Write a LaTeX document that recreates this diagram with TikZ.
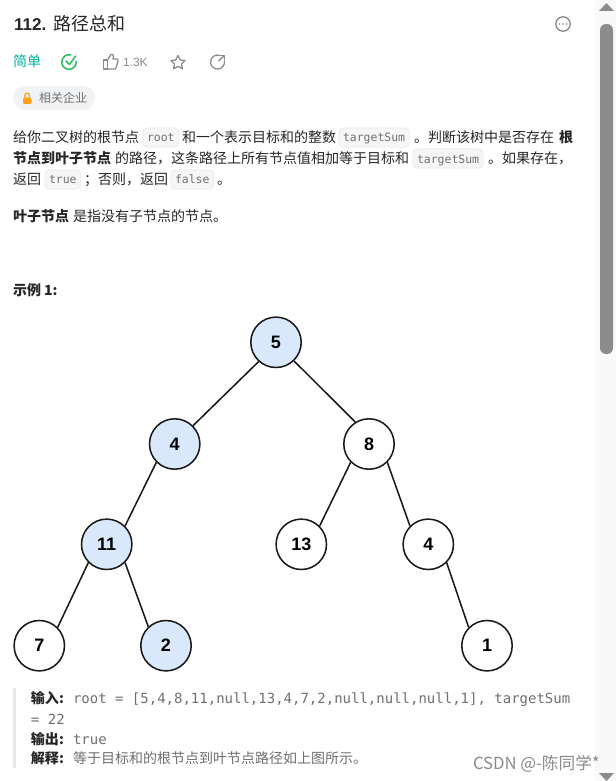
\documentclass[tikz,border=0pt]{standalone}
\usepackage{fontspec}
\setmainfont{Noto Sans CJK SC}
\newfontfamily\cjk{Noto Sans CJK SC}
\newfontfamily\latn{Liberation Sans}
\newfontfamily\codefont{DejaVu Sans Mono}
\definecolor{txt}{HTML}{262626}
\definecolor{muted}{HTML}{8A8A8A}
\definecolor{mono}{HTML}{707070}
\definecolor{teal}{HTML}{00AF9B}
\definecolor{okgreen}{HTML}{2CBB5D}
\definecolor{chipbg}{HTML}{F6F6F6}
\definecolor{chipline}{HTML}{E8E8E8}
\definecolor{pill}{HTML}{F1F2F4}
\definecolor{nodeblue}{HTML}{DAE8FC}
\definecolor{bar}{HTML}{8C8C8C}
\definecolor{track}{HTML}{F9F9F9}
\definecolor{lockc}{HTML}{FFA116}
\tikzset{
  x=0.75pt,y=-0.75pt,
  body/.style={anchor=base west,inner sep=0pt,outer sep=0pt,text=txt,font=\cjk\fontsize{10.5pt}{12pt}\selectfont},
  bodyb/.style={body,font=\cjk\bfseries\fontsize{10.5pt}{12pt}\selectfont},
  chip/.style={anchor=base west,inner xsep=3pt,inner ysep=0pt,outer sep=0pt,text=mono,
     font=\codefont\fontsize{8.6pt}{11pt}\selectfont,
     text height=10.5pt,text depth=3.75pt,
     rounded corners=3pt,fill=chipbg,draw=chipline,line width=0.5pt},
  code/.style={anchor=base west,inner sep=0pt,outer sep=0pt,text=mono,font=\codefont\fontsize{10.5pt}{12pt}\selectfont},
  tree/.style={circle,draw=black!90,line width=1.15pt,minimum size=37.8pt,inner sep=0pt,fill=white,
     text=black,font=\latn\bfseries\fontsize{13.5pt}{15pt}\selectfont},
  hot/.style={tree,fill=nodeblue},
  link/.style={draw=black!90,line width=1.15pt},
  ico/.style={draw=muted,line width=0.95pt,line join=round,line cap=round},
}
\begin{document}
\begin{tikzpicture}
\useasboundingbox (0,0) rectangle (616,781);
\fill[white] (0,0) rectangle (616,781);
% scrollbar
\fill[track] (595,0) rectangle (616,781);
\fill[bar,rounded corners=4.5pt] (600,24) rectangle (613,354);
\fill[bar] (606.5,3) -- (599,11) -- (614,11) -- cycle;
\fill[bar] (606.5,781) -- (599,773) -- (614,773) -- cycle;
% header
\node[body,font=\latn\bfseries\fontsize{12.8pt}{14pt}\selectfont] (title) at (14,31) {112.};
\node[body,font=\cjk\fontsize{13.5pt}{15pt}\selectfont] (titleb) at (53,31) {路径总和};
\draw[ico,line width=1pt] (563,24) circle (7.2);
\foreach \i in {559.5,563,566.5} \fill[muted] (\i,24) circle (0.9);
\node[body,text=teal] (level) at (13,67) {简单};
% check
\draw[okgreen,line width=1.1pt,line cap=round] ([shift={(-5:7.3)}]69,62) arc (-5:285:7.3);
\draw[okgreen,line width=1.1pt,line cap=round,line join=round] (66,61) -- (69.5,64.5) -- (75.5,56);
% thumb
\draw[ico] (103.5,60) rectangle (107.5,69);
\draw[ico] (107.5,60) -- (111,54.5) .. controls (112,53.5) and (114,54.5) .. (113.5,56.5) -- (113,59) -- (117,59) .. controls (118,59) and (118,60) .. (118,61) -- (116,68) .. controls (116,69) and (115,69) .. (114,69) -- (107.5,69);
\node[body,text=muted,font=\latn\fontsize{9pt}{11pt}\selectfont] (likes) at (123,67) {1.3K};
% star
\draw[ico] (178,55.5) -- (180.2,60) -- (185,60.6) -- (181.5,64) -- (182.5,68.8) -- (178,66.4) -- (173.5,68.8) -- (174.5,64) -- (171,60.6) -- (175.8,60) -- cycle;
% share
\draw[ico] ([shift={(-5:7)}]217.5,62) arc (-5:285:7);
\draw[ico] (218.5,61) -- (224.5,55.5);
\draw[ico] (220,55.5) -- (224.5,55.5) -- (224.5,60);
% pill
\fill[pill,rounded corners=8.9pt] (13,86) rectangle (95,110);
\fill[lockc,rounded corners=1pt] (23,97.5) rectangle (31.5,104);
\draw[lockc,line width=0.9pt] (24.8,97.5) -- (24.8,95.5) arc (180:360:2.4) -- (29.6,97.5);
\node[body,text=mono,font=\cjk\fontsize{9pt}{11pt}\selectfont] (co) at (39,103) {相关企业};
% paragraph, line 1
\node[body] (a1) at (13,143) {给你二叉树的根节点};
\node[chip] (a2) at (143,142) {root};
\node[body] (a3) at (182,143) {和一个表示目标和的整数};
\node[chip] (a4) at (339,142) {targetSum};
\node[body] (a5) at (414,143) {。判断该树中是否存在};
\node[bodyb] (a6) at (559,143) {根};
% line 2
\node[bodyb] (b1) at (13,164) {节点到叶子节点};
\node[body] (b2) at (115,164) {的路径，这条路径上所有节点值相加等于目标和};
\node[chip] (b3) at (413,163) {targetSum};
\node[body] (b4) at (488,164) {。如果存在，};
% line 3
\node[body] (c1) at (13,185) {返回};
\node[chip] (c2) at (45,184) {true};
\node[body] (c3) at (84,185) {；否则，返回};
\node[chip] (c4) at (171,184) {false};
\node[body] (c5) at (217,185) {。};
% leaf
\node[bodyb] (d1) at (13,221) {叶子节点};
\node[body] (d2) at (73,221) {是指没有子节点的节点。};
\node[bodyb] (e1) at (13,295) {示例 1:};
% tree
\node[hot]  (n5)  at (276,342.3) {5};
\node[hot]  (n4)  at (174.7,444) {4};
\node[tree] (n8)  at (369,444) {8};
\node[hot]  (n11) at (106.7,544.3) {11};
\node[tree] (n13) at (301.3,544.3) {13};
\node[tree] (n4b) at (428.3,544.3) {4};
\node[tree] (n7)  at (39.3,645.7)  {7};
\node[hot]  (n2)  at (166,645.7) {2};
\node[tree] (n1)  at (487,645.7) {1};
\draw[link] (n5.228)--(n4.45);
\draw[link] (n5.314)--(n8.122);
\draw[link] (n4.225)--(n11.45);
\draw[link] (n8.225)--(n13.45);
\draw[link] (n8.315)--(n4b.135);
\draw[link] (n11.225)--(n7.45);
\draw[link] (n11.315)--(n2.133);
\draw[link] (n4b.315)--(n1.135);
% example block
\fill[chipline] (13,688) rectangle (15.5,768);
\node[bodyb] (f1) at (31,703) {输入:};
\node[code] (f2) at (73,703) {root = [5,4,8,11,null,13,4,7,2,null,null,null,1], targetSum};
\node[code] (f3) at (31,724) {= 22};
\node[bodyb] (g1) at (31,744) {输出:};
\node[code] (g2) at (73,744) {true};
\node[bodyb] (h1) at (31,763) {解释:};
\node[body,text=mono] (h2) at (73,763) {等于目标和的根节点到叶节点路径如上图所示。};
\node[body,text=muted,font=\cjk\fontsize{12.5pt}{14pt}\selectfont] (wm) at (473,769) {CSDN @-陈同学*};
\end{tikzpicture}
\end{document}
